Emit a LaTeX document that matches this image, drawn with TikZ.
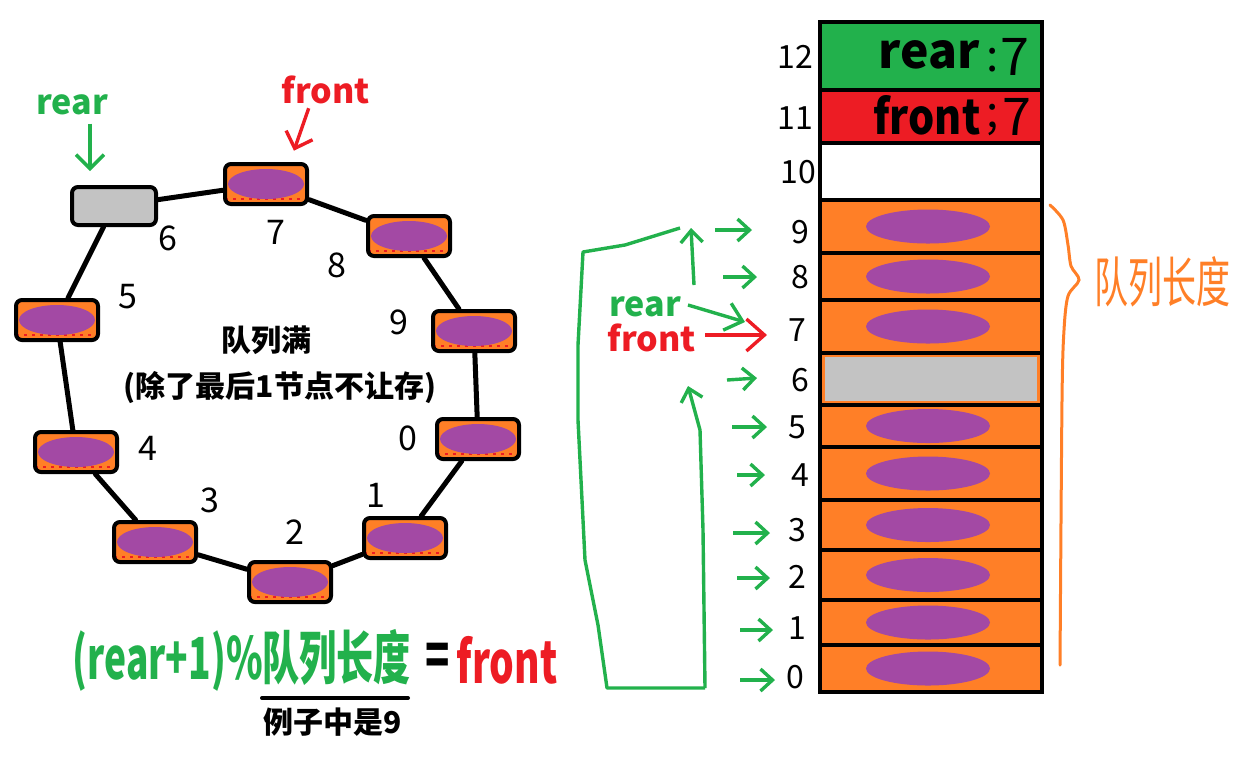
\documentclass[tikz,border=0pt]{standalone}
\usepackage{fontspec}
\setmainfont{Noto Sans CJK SC}
\usetikzlibrary{arrows.meta}
\definecolor{qorange}{HTML}{FF7F27}
\definecolor{qpurple}{HTML}{A349A4}
\definecolor{qgreen}{HTML}{22B14C}
\definecolor{qred}{HTML}{ED1C24}
\definecolor{qgray}{HTML}{C3C3C3}
\begin{document}
\begin{tikzpicture}[x=0.5pt,y=-0.5pt,
  ring/.style={draw=black, line width=2pt, rounded corners=3pt, fill=qorange,
    minimum width=41pt, minimum height=20pt, inner sep=0pt,
    path picture={
      \draw[qred, line width=0.9pt, dash pattern=on 1.5pt off 2.5pt]
        ([yshift=2.5pt]path picture bounding box.south west) -- ([yshift=2.5pt]path picture bounding box.south east);
      \fill[qpurple] (path picture bounding box.center) ellipse [x radius=19pt, y radius=7.5pt];}},
  graybox/.style={draw=black, line width=2pt, rounded corners=3pt, fill=qgray,
    minimum width=42pt, minimum height=19pt, inner sep=0pt},
  link/.style={line width=2.5pt, black, line cap=round},
  num/.style={font=\fontsize{17}{17}\selectfont, inner sep=0pt},
  rnum/.style={font=\fontsize{16}{16}\selectfont, inner sep=0pt},
  cell/.style={draw=black, line width=2pt, minimum width=111pt, inner sep=0pt},
  ecell/.style={cell, fill=qorange,
    path picture={\fill[qpurple] ([xshift=-1.5pt]path picture bounding box.center) ellipse [x radius=31pt, y radius=8.5pt];}},
  garrow/.style={qgreen, line width=1.7pt, -{Straight Barb[length=6pt, width=11pt, line width=1.7pt]}},
  gline/.style={qgreen, line width=1.7pt},
  boldlbl/.style={font=\bfseries\fontsize{17}{17}\selectfont, inner sep=0pt}
]
\useasboundingbox (0,0) rectangle (1251,757);

% ---------- ring ----------
\node[graybox] (r6) at (114,206) {};
\node[ring] (r7) at (266,184) {};
\node[ring] (r8) at (409,236) {};
\node[ring] (r9) at (474,331) {};
\node[ring] (r0) at (478,439) {};
\node[ring] (r1) at (405,538) {};
\node[ring] (r2) at (290,582) {};
\node[ring] (r3) at (155,542) {};
\node[ring] (r4) at (76,452) {};
\node[ring] (r5) at (57,320) {};

\draw[link] (r6) -- (r7);
\draw[link] (r7) -- (r8);
\draw[link] (r8) -- (r9);
\draw[link] (r9) -- (r0);
\draw[link] (r0) -- (r1);
\draw[link] (r1) -- (r2);
\draw[link] (r2) -- (r3);
\draw[link] (r3) -- (r4);
\draw[link] (r4) -- (r5);
\draw[link] (r5) -- (r6);

\node[num] (n6) at (168,238) {6};
\node[num] (n7) at (276,232) {7};
\node[num] (n8) at (337,265) {8};
\node[num] (n9) at (399,322) {9};
\node[num] (n0) at (408,438) {0};
\node[num] (n1) at (376,495) {1};
\node[num] (n2) at (295,532) {2};
\node[num] (n3) at (210,500) {3};
\node[num] (n4) at (148,448) {4};
\node[num] (n5) at (128,297) {5};

\node[boldlbl, text=qgreen] (rearL) at (72,105) {rear};
\node[boldlbl, text=qred] (frontL) at (326,90) {front};
\draw[qgreen, line width=1.7pt, -{Straight Barb[length=7pt, width=14pt, line width=1.7pt]}, shorten <=4pt, shorten >=7pt]
  ([xshift=9pt]rearL.south) -- ([xshift=-12pt]r6.north);
\draw[qred, line width=1.7pt, -{Straight Barb[length=7pt, width=14pt, line width=1.7pt]}, shorten <=2pt, shorten >=6pt]
  ([xshift=-8pt]frontL.south) -- ([xshift=12pt]r7.north);

\node[font=\bfseries\fontsize{15}{15}\selectfont] (full) at (266,340) {队列满};
\node[font=\bfseries\fontsize{15}{15}\selectfont] (note) at (280,388) {(除了最后1节点不让存)};

% ---------- formula ----------
\node[text=qgreen, font=\bfseries\fontsize{29}{29}\selectfont, inner sep=0pt] (f1) at (242,660) {\scalebox{0.64}[1]{(rear+1)\%队列长度}};
\node[font=\bfseries\fontsize{29}{29}\selectfont, inner sep=0pt] (f2) at (438,660) {\scalebox{0.69}[1]{=}};
\node[text=qred, font=\bfseries\fontsize{29}{29}\selectfont, inner sep=0pt] (f3) at (507,660) {\scalebox{0.67}[1]{front}};
\coordinate (u1) at (262,698);
\coordinate (u2) at (408,698);
\draw[line width=2pt, line cap=round] (u1) -- (u2);
\node[font=\bfseries\fontsize{15}{15}\selectfont, inner sep=0pt] (ex) at (333,722) {例子中是9};

% ---------- right column ----------
\node[cell, fill=qgreen, minimum height=34pt] (c12) at (931,56) {};
\node[cell, fill=qred, minimum height=26.5pt] (c11) at (931,116.5) {};
\node[cell, fill=white, minimum height=28.5pt] (c10) at (931,171.5) {};
\node[ecell, minimum height=26.5pt] (c9) at (931,226.5) {};
\node[ecell, minimum height=23.5pt] (c8) at (931,276.5) {};
\node[ecell, minimum height=26.5pt] (c7) at (931,326.5) {};
\node[cell, fill=qorange, minimum height=26pt,
  path picture={\fill[qgray] ([shift={(2.5pt,2pt)}]path picture bounding box.south west) rectangle ([shift={(-2.5pt,-2pt)}]path picture bounding box.north east);}] (c6) at (931,379) {};
\node[ecell, minimum height=21pt] (c5) at (931,426) {};
\node[ecell, minimum height=26.5pt] (c4) at (931,473.5) {};
\node[ecell, minimum height=25pt] (c3) at (931,525) {};
\node[ecell, minimum height=25pt] (c2) at (931,575) {};
\node[ecell, minimum height=22.5pt] (c1) at (931,622.5) {};
\node[ecell, minimum height=23.5pt] (c0) at (931,668.5) {};

\node[font=\bfseries\fontsize{24}{24}\selectfont, inner sep=0pt] (t12) at (929,55) {rear};
\node[font=\fontsize{22}{22}\selectfont, inner sep=0pt] (k12) at (993,60) {:};
\node[font=\fontsize{26}{26}\selectfont, inner sep=0pt] (v12) at (1015,57) {7};
\node[font=\bfseries\fontsize{24}{24}\selectfont, inner sep=0pt] (t11) at (927,115) {\scalebox{0.86}[1]{front}};
\node[font=\fontsize{22}{22}\selectfont, inner sep=0pt] (k11) at (993,120) {;};
\node[font=\fontsize{26}{26}\selectfont, inner sep=0pt] (v11) at (1017,117) {7};

\node[rnum] (l12) at (795,57) {12};
\node[rnum] (l11) at (795,118) {11};
\node[rnum] (l10) at (798,172) {10};
\node[rnum] (l9) at (800,232) {9};
\node[rnum] (l8) at (800,277) {8};
\node[rnum] (l7) at (797,330) {7};
\node[rnum] (l6) at (800,380) {6};
\node[rnum] (l5) at (797,427) {5};
\node[rnum] (l4) at (800,475) {4};
\node[rnum] (l3) at (797,530) {3};
\node[rnum] (l2) at (797,577) {2};
\node[rnum] (l1) at (797,628) {1};
\node[rnum] (l0) at (795,677) {0};

% green arrows
\coordinate (a9s) at (715,230); \coordinate (a9e) at (752,230);
\coordinate (a8s) at (723,277); \coordinate (a8e) at (757,277);
\coordinate (a6s) at (727,380); \coordinate (a6e) at (757,378);
\coordinate (a5s) at (732,427); \coordinate (a5e) at (767,427);
\coordinate (a4s) at (737,475); \coordinate (a4e) at (765,475);
\coordinate (a3s) at (733,533); \coordinate (a3e) at (770,533);
\coordinate (a2s) at (737,578); \coordinate (a2e) at (770,578);
\coordinate (a1s) at (740,630); \coordinate (a1e) at (773,630);
\coordinate (a0s) at (740,680); \coordinate (a0e) at (775,680);
\foreach \i in {9,8,6,5,4,3,2,1,0}{\draw[garrow] (a\i s) -- (a\i e);}

\node[boldlbl, text=qgreen] (rearR) at (645,307) {rear};
\node[boldlbl, text=qred] (frontR) at (652,338) {front};
\coordinate (rgs) at (688,305); \coordinate (rge) at (745,322);
\draw[qgreen, line width=1.7pt, -{Straight Barb[length=8pt, width=14pt, line width=1.7pt]}] (rgs) -- (rge);
\coordinate (rfs) at (705,335); \coordinate (rfe) at (767,335);
\draw[qred, line width=1.7pt, -{Straight Barb[length=9pt, width=16pt, line width=1.7pt]}] (rfs) -- (rfe);

% green loop
\coordinate (lb) at (705,688);
\coordinate (lt) at (680,228);
\draw[gline, line join=round] (lb) -- (607,688) -- (598,625) -- (585,560) -- (578,420) -- (578,345) -- (583,252) -- (625,245) -- (lt);
\coordinate (ua) at (694,285); \coordinate (ub) at (691,228);
\draw[garrow] (ua) -- (ub);
\coordinate (ic) at (688,386);
\draw[garrow, line join=round] (lb) -- (703,530) -- (700,430) -- (ic);

% orange brace and label
\draw[qorange, line width=1.5pt, line cap=round] plot[smooth, tension=0.5] coordinates {(1050,205) (1063,220) (1068,245) (1071,266) (1079,280) (1068,296) (1064,330) (1062,400) (1060,665)};
\node[text=qorange, font=\fontsize{17}{17}\selectfont, inner sep=0pt] (len) at (1162,282) {\scalebox{1}[1.6]{队列长度}};
\end{tikzpicture}
\end{document}
